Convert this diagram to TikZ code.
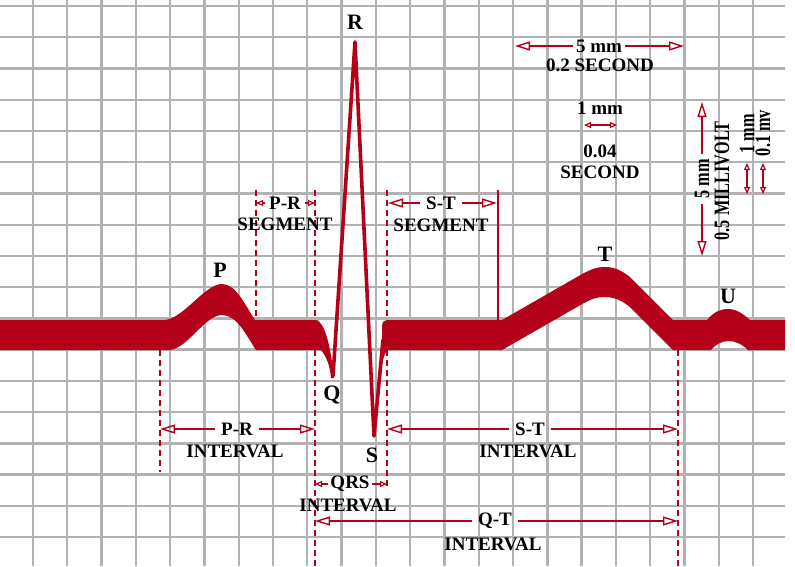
\documentclass[tikz,border=0pt]{standalone}
\usepackage{fontspec}
\setmainfont{Liberation Serif}
\usetikzlibrary{arrows.meta}
\definecolor{ecgred}{RGB}{180,0,25}
\definecolor{gridgray}{RGB}{178,178,178}
\begin{document}
\begin{tikzpicture}[x=1pt,y=-1pt,
  gridline/.style={gridgray, line width=2.3pt},
  wave/.style={fill=ecgred},
  spike/.style={ecgred, line width=3.6pt, line join=round, line cap=round},
  guide/.style={ecgred, line width=1.5pt, dash pattern=on 6pt off 4pt},
  solidguide/.style={ecgred, line width=1.5pt},
  bigarrow/.style={ecgred, line width=1.4pt, -{Triangle[open, length=15pt, width=9pt, line width=1.4pt]}},
  smallarrow/.style={ecgred, line width=1.4pt, -{Triangle[open, length=7pt, width=6pt, line width=1.2pt]}},
  dblarrow/.style={ecgred, line width=1.4pt, {Triangle[open, length=7pt, width=6pt, line width=1.2pt]}-{Triangle[open, length=7pt, width=6pt, line width=1.2pt]}},
  lbl/.style={font=\fontsize{19}{21}\selectfont\bfseries, inner sep=1pt},
  gap/.style={inner xsep=6pt},
  vlbl/.style={font=\fontsize{22}{24}\selectfont\bfseries, inner sep=1pt, rotate=90},
  wlbl/.style={font=\fontsize{22}{24}\selectfont\bfseries, inner sep=0pt},
]
\useasboundingbox (0,0) rectangle (795,566);
\fill[white] (0,0) rectangle (795,566);

% grid
\foreach \k in {0,...,21} \draw[gridline] ({33+34.29*\k},0) -- ({33+34.29*\k},566);
\foreach \j in {0,...,17} \draw[gridline] (0,{6+31.24*\j}) -- (785,{6+31.24*\j});

% guide lines
\coordinate (g1t) at (160,350); \coordinate (g1b) at (160,472);
\coordinate (g2t) at (256,190); \coordinate (g2b) at (256,320);
\coordinate (g3t) at (315,190); \coordinate (g3b) at (315,566);
\coordinate (g4t) at (387,190); \coordinate (g4b) at (387,490);
\coordinate (g5t) at (678,350); \coordinate (g5b) at (678,566);
\coordinate (g6t) at (498,190); \coordinate (g6b) at (498,320);
\draw[guide] (g1t) -- (g1b);
\draw[guide] (g2t) -- (g2b);
\draw[guide] (g3t) -- (g3b);
\draw[guide] (g4t) -- (g4b);
\draw[guide] (g5t) -- (g5b);
\draw[solidguide] (g6t) -- (g6b);

% ECG wave: left band with P wave and Q
\fill[wave] (0,320) -- (165,320)
  .. controls (184,318) and (205,284) .. (222,284)
  .. controls (236,284) and (245,305) .. (255,320)
  -- (317,320)
  .. controls (324,324) and (330,340) .. (334,378)
  -- (331,378)
  .. controls (330,365) and (326,356) .. (321,350)
  -- (256,350)
  .. controls (246,335) and (237,315) .. (222,315)
  .. controls (205,315) and (188,348) .. (170,350)
  -- (0,350) -- cycle;
% R and S spike
\coordinate (Qtip) at (333,376);
\coordinate (Rtip) at (355,42);
\coordinate (Stip) at (374,436);
\coordinate (Sup) at (383,340);
\draw[spike] (Qtip) -- (Rtip) -- (Stip) -- (Sup);
% right band with T and U waves
\fill[wave] (378,392)
  .. controls (380,370) and (381,355) .. (382,340)
  -- (382,326) .. controls (383,321) .. (388,320)
  -- (502,320) -- (577,277)
  .. controls (592,268) and (598,267) .. (605,267)
  .. controls (614,267) and (621,270) .. (630,277)
  -- (673,320) -- (707,320)
  .. controls (714,312) and (720,309) .. (728,309)
  .. controls (736,309) and (742,313) .. (750,320)
  -- (785,320) -- (785,350) -- (748,350)
  .. controls (742,344) and (735,341) .. (729,341)
  .. controls (722,341) and (716,344) .. (711,350)
  -- (673,350) -- (630,307)
  .. controls (621,300) and (614,297) .. (605,297)
  .. controls (598,297) and (592,298) .. (577,307)
  -- (502,350) -- (388,350)
  .. controls (384,352) and (381,365) .. (378,392) -- cycle;

% wave letters
\node[wlbl] (lR) at (355,22) {R};
\node[wlbl] (lP) at (220,270) {P};
\node[wlbl] (lQ) at (332,395) {Q};
\node[wlbl] (lS) at (372,455) {S};
\node[wlbl] (lT) at (605,254) {T};
\node[wlbl] (lU) at (728,296) {U};

% P-R segment
\node[lbl, inner xsep=4pt] (prs) at (285,203) {P-R};
\node[lbl] (prs2) at (285,224) {SEGMENT};
\coordinate (prsL) at (256,203); \coordinate (prsR) at (315,203);
\draw[smallarrow] (prs.west) -- (prsL);
\draw[smallarrow] (prs.east) -- (prsR);

% S-T segment
\node[lbl, gap] (sts) at (441,203) {S-T};
\node[lbl] (sts2) at (441,225) {SEGMENT};
\coordinate (stsL) at (388,203); \coordinate (stsR) at (497,203);
\draw[bigarrow] (sts.west) -- (stsL);
\draw[bigarrow] (sts.east) -- (stsR);

% P-R interval
\node[lbl, gap] (pri) at (237,429) {P-R};
\node[lbl] (pri2) at (235,451) {INTERVAL};
\coordinate (priL) at (160,429); \coordinate (priR) at (315,429);
\draw[bigarrow] (pri.west) -- (priL);
\draw[bigarrow] (pri.east) -- (priR);

% S-T interval
\node[lbl, gap] (sti) at (530,429) {S-T};
\node[lbl] (sti2) at (528,451) {INTERVAL};
\coordinate (stiL) at (387,429); \coordinate (stiR) at (678,429);
\draw[bigarrow] (sti.west) -- (stiL);
\draw[bigarrow] (sti.east) -- (stiR);

% QRS interval
\node[lbl, inner xsep=2pt] (qrs) at (350,484) {QRS};
\node[lbl] (qrs2) at (348,505) {INTERVAL};
\coordinate (qrsL) at (315,484); \coordinate (qrsR) at (387,484);
\draw[smallarrow] (qrs.west) -- (qrsL);
\draw[smallarrow] (qrs.east) -- (qrsR);

% Q-T interval
\node[lbl, gap] (qti) at (495,521) {Q-T};
\node[lbl] (qti2) at (493,544) {INTERVAL};
\coordinate (qtiL) at (315,521); \coordinate (qtiR) at (678,521);
\draw[bigarrow] (qti.west) -- (qtiL);
\draw[bigarrow] (qti.east) -- (qtiR);

% scale: 5 mm = 0.2 second
\node[lbl, inner xsep=3pt] (fmm) at (599,46) {5 mm};
\node[lbl] (fsec) at (600,65) {0.2 SECOND};
\coordinate (fmmL) at (515,46); \coordinate (fmmR) at (684,46);
\draw[bigarrow] (fmm.west) -- (fmmL);
\draw[bigarrow] (fmm.east) -- (fmmR);

% scale: 1 mm = 0.04 second
\node[lbl] (omm) at (600,108) {1 mm};
\coordinate (ommL) at (584,125); \coordinate (ommR) at (617,125);
\draw[dblarrow] (ommL) -- (ommR);
\node[lbl] (osec) at (600,151) {0.04};
\node[lbl] (osec2) at (600,172) {SECOND};

% vertical scale: 5 mm = 0.5 millivolt
\node[vlbl, inner xsep=5pt] (vmm) at (702,179) {\scalebox{0.74}[1]{5 mm}};
\coordinate (vmmT) at (702,102); \coordinate (vmmB) at (702,256);
\draw[bigarrow] (vmm.east) -- (vmmT);
\draw[bigarrow] (vmm.west) -- (vmmB);
\node[vlbl] (vmv) at (722,181) {\scalebox{0.74}[1]{0.5 MILLIVOLT}};

% vertical scale: 1 mm = 0.1 mv
\node[vlbl] (vomm) at (747,134) {\scalebox{0.74}[1]{1 mm}};
\node[vlbl] (vomv) at (763,133) {\scalebox{0.74}[1]{0.1 mv}};
\coordinate (a1t) at (747,163); \coordinate (a1b) at (747,194);
\coordinate (a2t) at (763,163); \coordinate (a2b) at (763,194);
\draw[dblarrow] (a1t) -- (a1b);
\draw[dblarrow] (a2t) -- (a2b);
\end{tikzpicture}
\end{document}
